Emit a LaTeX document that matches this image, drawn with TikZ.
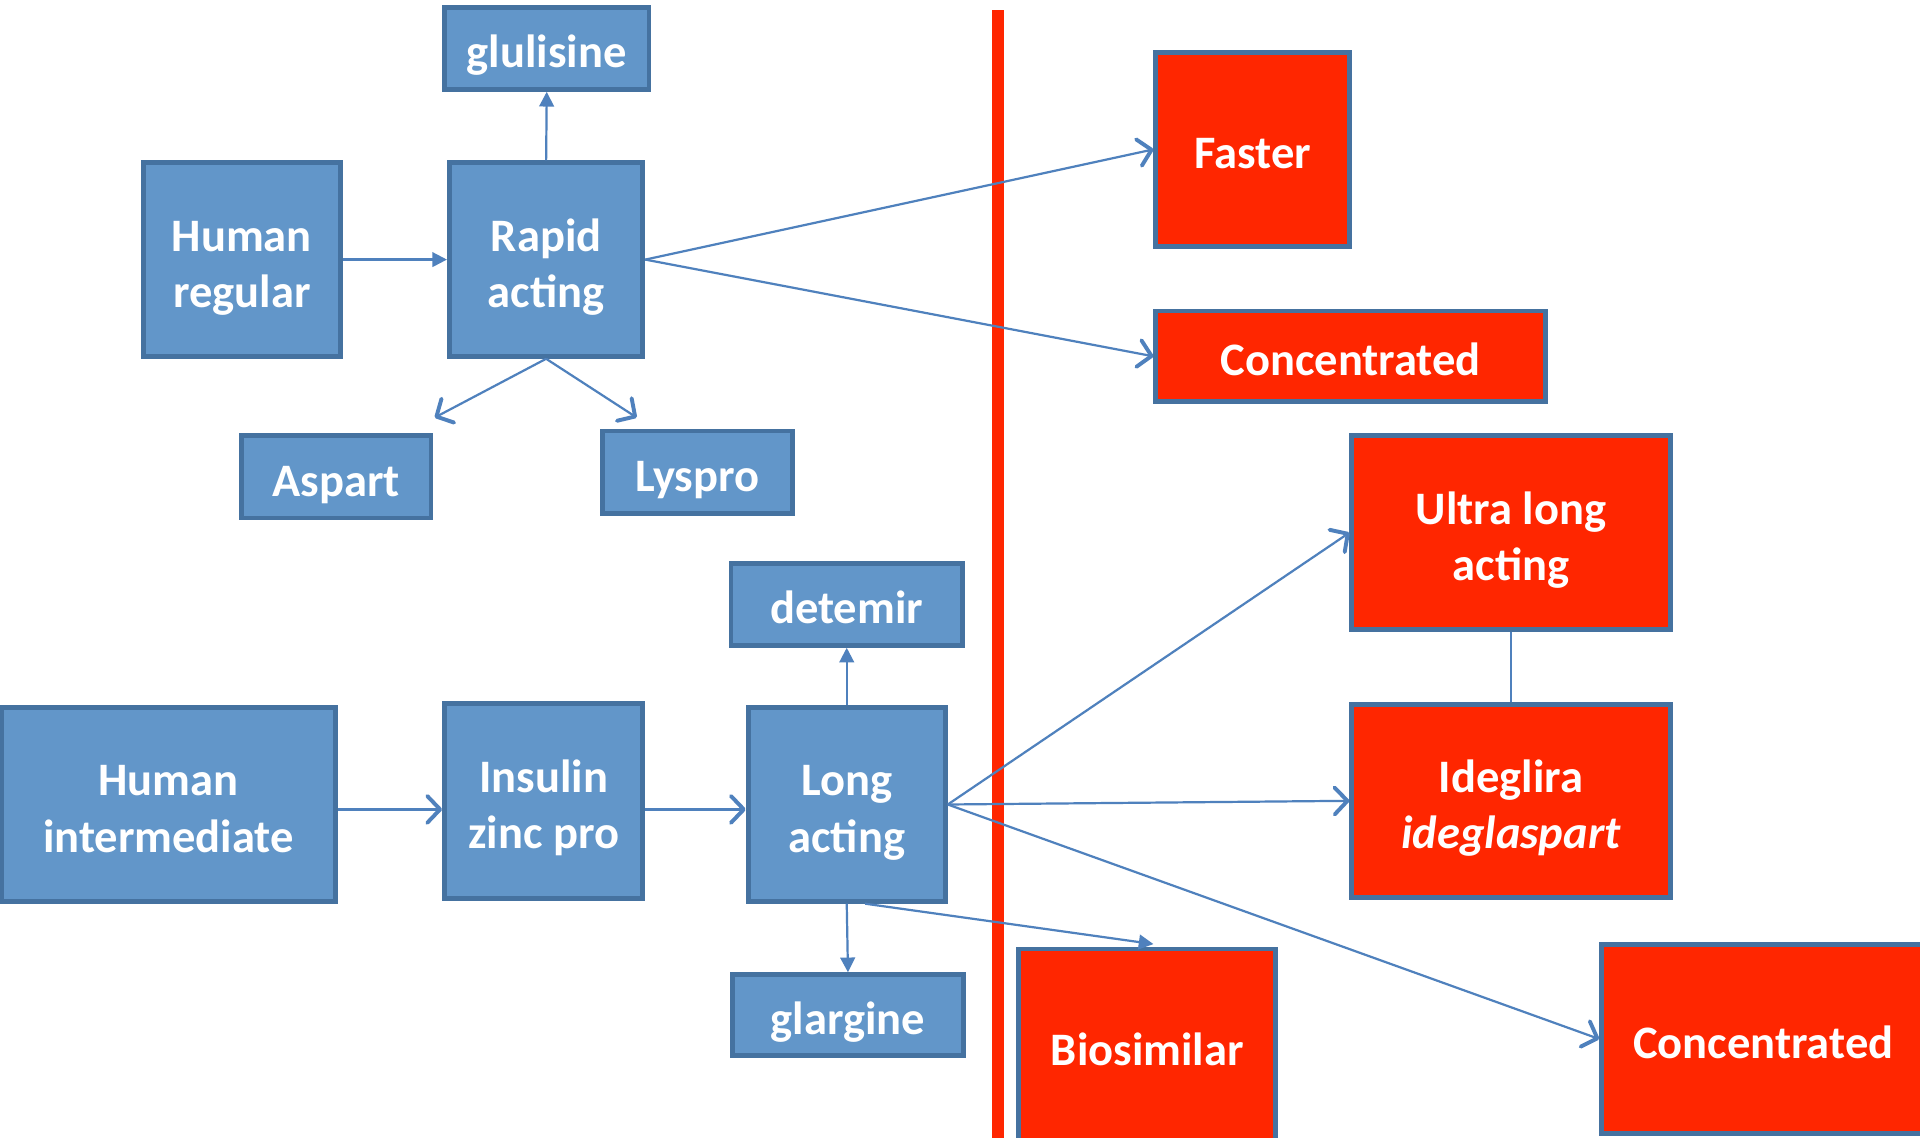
\documentclass[tikz,border=0pt]{standalone}
\usepackage{fontspec}
\setmainfont{Carlito}
\usetikzlibrary{arrows.meta,calc}
\definecolor{boxblue}{RGB}{98,150,201}
\definecolor{boxedge}{RGB}{69,114,160}
\definecolor{boxred}{RGB}{255,38,0}
\definecolor{conn}{RGB}{79,129,189}
\newcommand\lnstrut{\rule[-7pt]{0pt}{46pt}}
\tikzset{
  bbox/.style={draw=boxedge, line width=4pt, fill=boxblue, text=white, inner sep=0pt,
    align=center, font=\fontsize{38}{46}\selectfont\bfseries},
  rbox/.style={bbox, fill=boxred},
  link/.style={draw=conn, line width=1.8pt},
  solidtip/.style={link, -{Triangle[length=12pt,width=12pt]}},
  opentip/.style={link, -{Straight Barb[length=10.5pt,width=22pt,line width=3.2pt,round]}},
}
\begin{document}
\begin{tikzpicture}[x=1pt,y=-1pt]
\useasboundingbox[fill=white] (0,0) rectangle (1568,929);
% red divider
\fill[boxred] (810,8) rectangle (820,940);
% blue nodes
\node[bbox, minimum width=167pt, minimum height=67pt] (glu) at (446.5,39.5) {\lnstrut glulisine};
\node[bbox, minimum width=161pt, minimum height=158pt] (hr) at (197.5,212) {\lnstrut Human\\\lnstrut regular};
\node[bbox, minimum width=158pt, minimum height=158pt] (ra) at (446,212) {\lnstrut Rapid\\\lnstrut acting};
\node[bbox, minimum width=155pt, minimum height=67pt] (asp) at (274.5,389.5) {\lnstrut Aspart};
\node[bbox, minimum width=155pt, minimum height=67pt] (lys) at (569.5,385.5) {\lnstrut Lyspro};
\node[bbox, minimum width=189pt, minimum height=67pt] (det) at (691.5,493.5) {\lnstrut detemir};
\node[bbox, minimum width=273pt, minimum height=159pt] (hi) at (137.5,657) {\lnstrut Human\\\lnstrut intermediate};
\node[bbox, minimum width=162pt, minimum height=159pt] (iz) at (444,654) {\lnstrut Insulin\\\lnstrut zinc pro};
\node[bbox, minimum width=161pt, minimum height=158pt] (la) at (691.5,657) {\lnstrut Long\\\lnstrut acting};
\node[bbox, minimum width=189pt, minimum height=66pt] (gla) at (692.5,829) {\lnstrut glargine};
% red nodes
\node[rbox, minimum width=158pt, minimum height=158pt] (fast) at (1023,122) {\lnstrut Faster};
\node[rbox, minimum width=318pt, minimum height=74pt] (conc1) at (1103,291) {\lnstrut Concentrated};
\node[rbox, minimum width=260pt, minimum height=158pt] (ul) at (1234,435) {\lnstrut Ultra long\\\lnstrut acting};
\node[rbox, minimum width=260pt, minimum height=158pt] (ide) at (1234,654) {\lnstrut Ideglira\\\lnstrut\textit{ideglaspart}};
\node[rbox, minimum width=210pt, minimum height=158pt] (bio) at (937,854) {\lnstrut Biosimilar};
\node[rbox, minimum width=264pt, minimum height=155pt] (conc2) at (1440,848.5) {\lnstrut Concentrated};
% connectors
\draw[solidtip] (hr.east) -- (ra.west);
\draw[solidtip] (ra.north) -- (glu.south);
\draw[opentip] (ra.south) -- ($(asp.north east)+(1,-13)$);
\draw[opentip] (ra.south) -- ($(lys.north west)+(30,-9)$);
\draw[opentip] (ra.east) -- (fast.west);
\draw[opentip] (ra.east) -- (conc1.west);
\draw[opentip] ($(hi.east)+(0,4)$) -- ($(iz.west)+(0,7)$);
\draw[opentip] ($(iz.east)+(0,7)$) -- ($(la.west)+(0,4)$);
\draw[solidtip] (la.north) -- (det.south);
\draw[solidtip] (la.south) -- (gla.north);
\draw[solidtip] ($(la.south)+(15,0)$) -- ($(bio.north)+(5,-2)$);
\draw[opentip] (la.east) -- (ul.west);
\draw[opentip] (la.east) -- (ide.west);
\draw[opentip] (la.east) -- (conc2.west);
\draw[link] (ul.south) -- (ide.north);
\end{tikzpicture}
\end{document}
